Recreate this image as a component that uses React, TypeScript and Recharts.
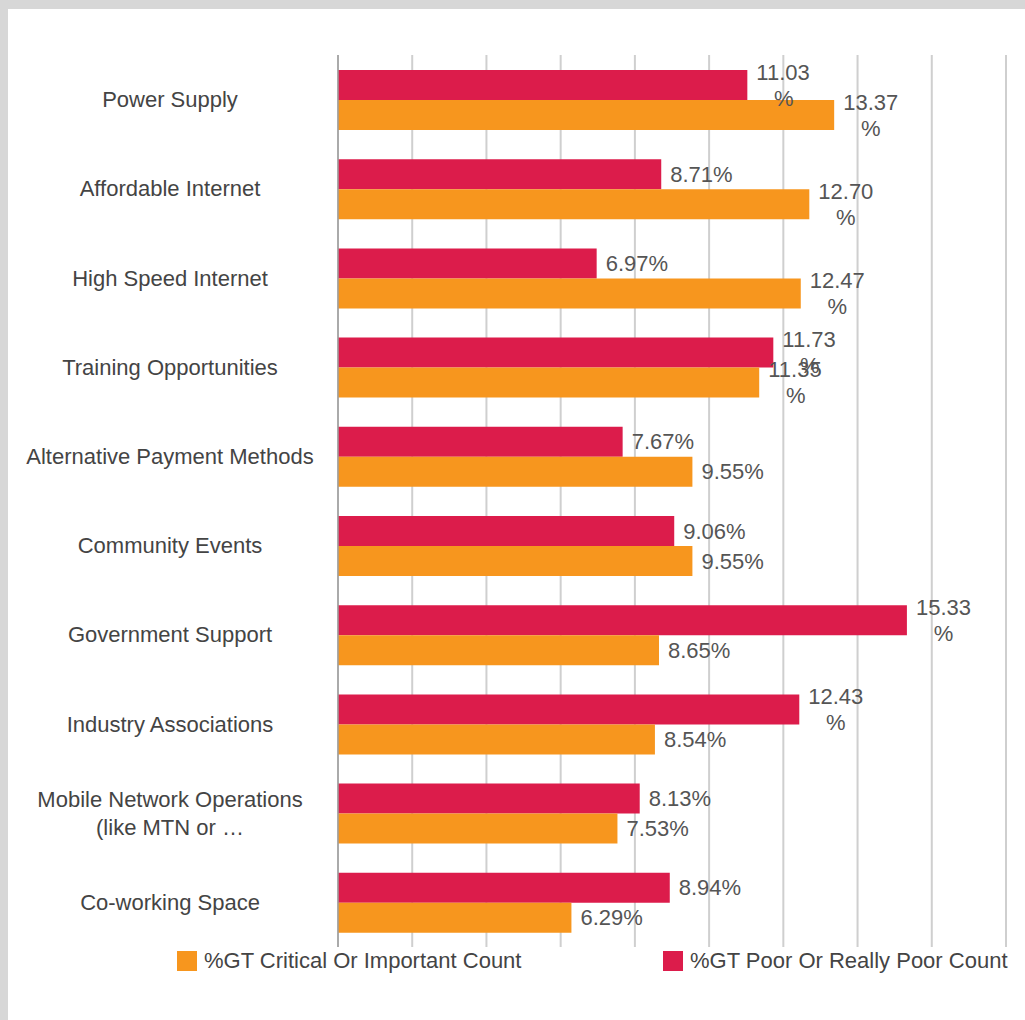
import React from "react"
import { BarChart, Bar, XAxis, YAxis, CartesianGrid, LabelList } from "recharts"

const categories = [
  "Power Supply",
  "Affordable Internet",
  "High Speed Internet",
  "Training Opportunities",
  "Alternative Payment Methods",
  "Community Events",
  "Government Support",
  "Industry Associations",
  "Mobile Network Operations\n(like MTN or …",
  "Co-working Space",
]
const poorValues = [11.03, 8.71, 6.97, 11.73, 7.67, 9.06, 15.33, 12.43, 8.13, 8.94]
const criticalValues = [13.37, 12.7, 12.47, 11.35, 9.55, 9.55, 8.65, 8.54, 7.53, 6.29]
const xTicks = [0, 2, 4, 6, 8, 10, 12, 14, 16, 18]

const POOR_LABEL = "%GT Poor Or Really Poor Count"
const CRITICAL_LABEL = "%GT Critical Or Important Count"

const RED = "#dc1c4b"
const ORANGE = "#f7961e"
const FONT = "'Liberation Sans', Arial, sans-serif"
const FS = 22

const data = categories.map((name, i) => ({
  name,
  poor: poorValues[i],
  critical: criticalValues[i],
}))

// category names centred in the left gutter, split on newlines
const CategoryTick = (props: any) => {
  const { y, payload } = props
  const lines = String(payload.value).split("\n")
  const lh = 28
  const startY = y - ((lines.length - 1) * lh) / 2
  return (
    <text x={170} y={startY} textAnchor="middle" fontFamily={FONT} fontSize={FS} fill="#444">
      {lines.map((l, i) => (
        <tspan key={i} x={170} dy={i === 0 ? 0 : lh} dominantBaseline="central">
          {l}
        </tspan>
      ))}
    </text>
  )
}

// value labels: two-digit values wrap the % sign onto a second line
const renderValueLabel = (props: any) => {
  const vb = props.viewBox || props
  const x = Number(vb.x) + Number(vb.width) + 9
  const cy = Number(vb.y) + Number(vb.height) / 2
  const txt = Number(props.value).toFixed(2)
  if (Number(props.value) < 10) {
    return (
      <text x={x} y={cy} dominantBaseline="central" fontFamily={FONT} fontSize={FS} fill="#555">
        {txt + "%"}
      </text>
    )
  }
  const w = (txt.replace(".", "").length * 0.556 + 0.278) * FS
  return (
    <g>
      <text x={x} y={cy - 13} dominantBaseline="central" fontFamily={FONT} fontSize={FS} fill="#555">
        {txt}
      </text>
      <text x={x + w / 2} y={cy + 13} textAnchor="middle" dominantBaseline="central" fontFamily={FONT} fontSize={FS} fill="#555">
        %
      </text>
    </g>
  )
}

const LegendItem = ({ color, label, left }: { color: string; label: string; left: number }) => (
  <div style={{ position: "absolute", left, top: 950, display: "flex", alignItems: "center", height: 21 }}>
    <div style={{ width: 20, height: 20, background: color }} />
    <span style={{ marginLeft: 7, fontFamily: FONT, fontSize: FS, color: "#444", whiteSpace: "nowrap" }}>{label}</span>
  </div>
)

export default function App() {
  return (
    <div style={{ position: "absolute", left: 0, top: 0, width: 1025, height: 1020, background: "#d7d7d7", overflow: "hidden" }}>
      <div style={{ position: "absolute", left: 8, top: 9, width: 1017, height: 1011, background: "#fff" }} />
      <div style={{ position: "absolute", left: 0, top: 0 }}>
        <BarChart
          width={1025}
          height={1020}
          layout="vertical"
          data={data}
          margin={{ top: 55, right: 19, bottom: 73, left: 8 }}
          barCategoryGap={15}
          barGap={0}
        >
          <CartesianGrid horizontal={false} stroke="#cfcfcf" strokeWidth={2} />
          <XAxis
            type="number"
            domain={[0, 18]}
            ticks={xTicks}
            interval={0}
            tick={{ fill: "transparent", fontSize: 1 }}
            axisLine={false}
            tickLine={false}
            height={0}
          />
          <YAxis
            type="category"
            dataKey="name"
            width={330}
            interval={0}
            tickLine={false}
            axisLine={{ stroke: "#9e9e9e", strokeWidth: 1.5 }}
            tick={<CategoryTick />}
          />
          <Bar dataKey="poor" name={POOR_LABEL} fill={RED} isAnimationActive={false}>
            <LabelList dataKey="poor" content={renderValueLabel} />
          </Bar>
          <Bar dataKey="critical" name={CRITICAL_LABEL} fill={ORANGE} isAnimationActive={false}>
            <LabelList dataKey="critical" content={renderValueLabel} />
          </Bar>
        </BarChart>
      </div>
      <LegendItem color={ORANGE} label={CRITICAL_LABEL} left={177} />
      <LegendItem color={RED} label={POOR_LABEL} left={663} />
    </div>
  )
}
